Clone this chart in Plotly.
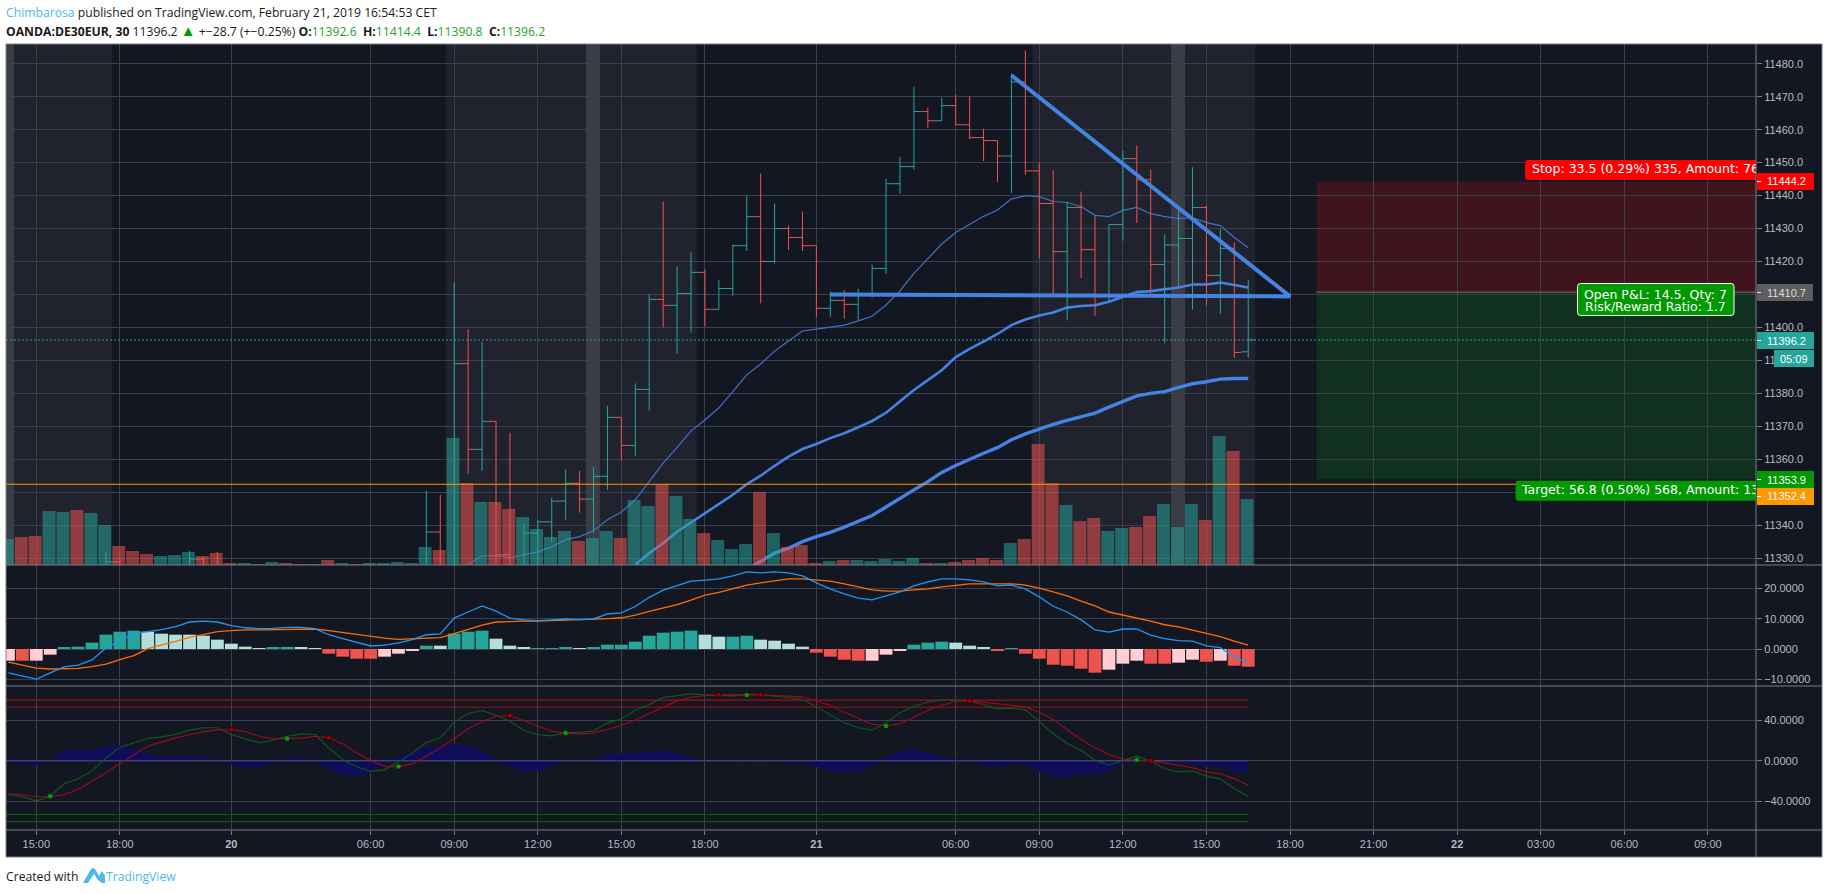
import plotly.graph_objects as go

W, H = 1828, 894
X_LEFT, X_RIGHT = -2.175, 123.45

# ---------- price bars (bar number, 0 = 15:00 on the 19th) ----------
bar_no = [5, 6, 11, 12, 13, 28, 29, 30, 31, 32, 33, 34, 35, 36, 37, 38, 39, 40, 41, 42, 43, 44, 45, 46, 47, 48, 49, 50,
          51, 52, 53, 54, 55, 56, 57, 58, 59, 60, 61, 62, 63, 64, 65, 66, 67, 68, 69, 70, 71, 72, 73, 74, 75, 76, 77,
          78, 79, 80, 81, 82, 83, 84, 85, 86, 87]
opens = [11325, 11328.8, 11325, 11329.7, 11326, 11325, 11337.9, 11325, 11389, 11363, 11371.5, 11331, 11326, 11337.6,
         11341, 11347.3, 11352.7, 11347.9, 11354.8, 11372.7, 11364.2, 11381.2, 11408.5, 11406.7, 11410.3, 11416.7,
         11405.5, 11411.8, 11424.8, 11433.6, 11420, 11430, 11427.3, 11424.8, 11405.8, 11408.2, 11407, 11410, 11417.9,
         11443.6, 11448.8, 11465.5, 11462.7, 11467.3, 11461.5, 11457.6, 11456.7, 11452, 11474.5, 11447.5, 11437.6,
         11423, 11436.4, 11423.6, 11409.4, 11431.2, 11451.2, 11444.8, 11419.1, 11425, 11427, 11436.4, 11415.8, 11424,
         11392.6]
highs = [11331.9, 11330.3, 11332.2, 11330.3, 11331.9, 11350.4, 11349.2, 11413.7, 11399.5, 11395.5, 11371.5, 11368,
         11340.4, 11341.6, 11348.3, 11356.8, 11356.5, 11357.6, 11376.2, 11372.7, 11383, 11410, 11438.2, 11418.5,
         11422.8, 11417.6, 11414.3, 11425.2, 11440, 11446.7, 11437.6, 11430.9, 11435.2, 11424.8, 11410.9, 11411.3,
         11411.8, 11419, 11445.2, 11451.8, 11473, 11466.7, 11469.7, 11470.6, 11470, 11460.3, 11456.7, 11477, 11484,
         11450, 11447.6, 11438.2, 11441.2, 11434, 11431.2, 11453.6, 11455.2, 11447.9, 11428.2, 11435.6, 11448.6,
         11437, 11430, 11425.8, 11414.4]
lows = [11325, 11325, 11325, 11325, 11325, 11325, 11325, 11325, 11355.5, 11356.5, 11325, 11325, 11325, 11325, 11334.8,
        11341.6, 11343.8, 11337.6, 11350.7, 11359.6, 11361, 11374.7, 11400, 11392, 11398.4, 11400.3, 11405.5, 11409.6,
        11423.2, 11407.3, 11419.4, 11423.5, 11423.2, 11403.2, 11403.2, 11402.6, 11402.2, 11409, 11416.3, 11440.5,
        11447.9, 11460.5, 11462.7, 11461.5, 11457.2, 11450.5, 11444.1, 11440.8, 11446.3, 11421, 11410, 11402.2, 11415,
        11403.5, 11408, 11426.3, 11431.7, 11410.3, 11395.2, 11412.3, 11405.4, 11406.6, 11404.1, 11390.8, 11390.8]
closes = [11328.8, 11325, 11329.7, 11326, 11325, 11337.9, 11325, 11389, 11363, 11371.5, 11331, 11326, 11337.6, 11341,
          11347.3, 11352.7, 11347.9, 11354.8, 11372.7, 11364.2, 11381.2, 11408.5, 11406.7, 11410.3, 11416.7, 11405.5,
          11411.8, 11424.8, 11433.6, 11420, 11430, 11427.3, 11424.8, 11405.8, 11408.2, 11407, 11410, 11417.9, 11443.6,
          11448.8, 11465.5, 11462.7, 11467.3, 11461.5, 11457.6, 11456.7, 11452, 11474.5, 11447.5, 11437.6, 11423,
          11436.4, 11423.6, 11409.4, 11431.2, 11451.2, 11444.8, 11419.1, 11425, 11427, 11436.4, 11415.8, 11424, 11392.4,
          11396.2]

# ---------- moving averages ----------
ma1_x = list(range(31, 88))
ma1 = [11328, 11330.7, 11330.7, 11330.1, 11331, 11331.9, 11333.4, 11335.6, 11336.5, 11338.3, 11341.6, 11344, 11347.7,
       11353.4, 11358.8, 11363.6, 11368.6, 11371.9, 11375.6, 11380.5, 11385.6, 11388.9, 11392.8, 11395.9, 11398.9,
       11399.5, 11400.1, 11400.7, 11402, 11403.4, 11406.8, 11411.1, 11416.4, 11420.9, 11425.3, 11428.8, 11431.3,
       11433.7, 11435.6, 11439, 11440, 11439.7, 11438.2, 11437.9, 11436.7, 11434, 11433.6, 11435.5, 11436.4, 11434.5,
       11433.6, 11433, 11433.3, 11431.8, 11430.9, 11427.3, 11424.2]
ma2_x = list(range(43, 88))
ma2 = [11328, 11331.5, 11334.5, 11338, 11340.8, 11343.6, 11346.2, 11349.2, 11352.4, 11355, 11358, 11360.8, 11363.1,
       11364.6, 11366.4, 11367.9, 11369.7, 11371.6, 11374.1, 11377.5, 11381, 11384, 11387, 11391, 11393.5, 11395.7,
       11398, 11400.7, 11402.4, 11403.6, 11404.5, 11406, 11406.5, 11406.7, 11407.8, 11409.3, 11410.7, 11411, 11411.5,
       11412.1, 11413, 11413, 11413.6, 11412.8, 11412.1]
ma3_x = list(range(51, 88))
ma3 = [11326.5, 11329, 11331.5, 11333, 11335, 11336.5, 11337.8, 11339.4, 11341.1, 11342.9, 11345.5, 11348.2, 11350.7,
       11353.2, 11356, 11358.1, 11360, 11361.8, 11363.5, 11365.9, 11367.7, 11369.2, 11370.6, 11371.8, 11372.8, 11374,
       11375.8, 11377.5, 11379.2, 11380, 11380.5, 11381.8, 11382.9, 11383.5, 11384.3, 11384.5, 11384.5]

# ---------- volume (bars -2 .. 87) ----------
vol_x = list(range(-2, 88))
volumes = [78, 84, 87, 162, 159, 165, 156, 120, 57, 42, 33, 27, 30, 39, 27, 36, 6, 6, 3, 9, 6, 3, 3, 15, 6, 3, 6, 6, 9,
           6, 54, 45, 381, 246, 189, 189, 168, 144, 108, 84, 102, 72, 81, 102, 81, 195, 177, 242, 207, 138, 96, 75, 48,
           63, 219, 96, 54, 60, 6, 12, 15, 15, 12, 18, 12, 21, 6, 6, 9, 15, 21, 15, 66, 78, 363, 245, 180, 132, 141, 102,
           111, 114, 147, 183, 114, 183, 135, 387, 342, 198]
vol_dir = list("T" "RR" "TT" "R" "TT" "RRR" "TTT" "RRR" "TTT" "RRRR" "T" "R" "TTTTT" "R"
               "T" "R" "T" "RR" "TTTT" "R" "TT" "R" "TT" "R" "TT" "R" "TTT" "R" "T" "RRR" "T" "R" "TTTTT" "R" "T"
               "RRRR" "T" "RRR" "T" "RR" "TT" "RR" "TTT" "R" "T" "R" "T")

# ---------- MACD ----------
macd_x = list(range(-2, 88))
hist = [-3.85, -3.85, -3.85, -1.87, 0.44, 0.77, 2.1, 4.73, 5.7, 6.05, 5.7, 5.06, 4.73, 4.73, 4.4, 3.08, 1.76, 0.77,
        0.15, 0.44, 0.44, 0.44, 0.03, -1.54, -2.53, -3.2, -3.2, -2.53, -1.54, -0.55, 1.1, 1.1, 5.06, 5.7, 6.05, 3.4,
        1.1, 0.44, 0.05, 0.11, 0.44, 0.11, 0.44, 1.43, 1.43, 2.42, 4.4, 5.39, 5.72, 6.05, 4.73, 4.07, 4.07, 4.4, 3.08,
        2.75, 1.76, 0.77, -1.2, -2.53, -3.52, -3.85, -3.85, -1.87, -0.55, 1.43, 2.09, 2.42, 2.09, 1.1, 0.44, -0.55,
        0.11, -1.54, -3.2, -5.17, -5.5, -6.5, -7.8, -6.82, -4.84, -3.85, -4.84, -4.84, -4.5, -3.52, -4.18, -3.85,
        -5.5, -5.83]
hist_tone = list("PRPP" "TTTTTT" "LLLLLLLLL" "TT" "L" "L" "RRRR" "PPP" "T" "L" "TTT" "LLL" "T" "T" "T" "L" "T"
                 "TTTTTTT" "LL" "TT" "LLLL" "RRRR" "PPP" "TTT" "LLL" "R" "T" "RRRRRR" "PPP" "RR" "PP" "R" "P" "RR")
macd_line = [-7.9, -8.9, -9.9, -7.9, -5.9, -5.3, -3.6, 0.3, 2.75, 5.06, 5.7, 6.4, 7.4, 8.9, 9.2, 8.9, 7.7, 7, 6.7, 6.8,
             7.15, 7.15, 6.7, 4.7, 3.4, 2.1, 1, 1.3, 2, 3.1, 4.7, 5, 10.2, 12.2, 14.2, 12.5, 10.2, 9.6, 9.35, 9.6, 9.9,
             9.7, 9.9, 11.55, 11.9, 14, 17.05, 19.4, 20.8, 22.4, 22.7, 23.1, 24.1, 25.4, 25.1, 25.4, 25.1, 24.1, 21.8,
             19.8, 18.2, 16.8, 16.2, 17.5, 18.8, 20.8, 22.1, 23.1, 23.1, 22.8, 22.1, 20.8, 21.1, 19.8, 17.2, 14.1, 12.2,
             9.6, 6.3, 5.6, 6.6, 6.6, 4.6, 3.4, 2.75, 2.6, 1, 0.44, -2.6, -4.6]
signal_line = [-4.3, -5.3, -6.3, -6.6, -6.6, -6.4, -5.8, -5, -3.5, -2.2, 0.1, 1.2, 2.5, 3.85, 4.7, 5.7, 6.05, 6.3, 6.3,
               6.4, 6.6, 6.7, 6.6, 6.05, 5.4, 4.7, 4.07, 3.6, 3.2, 3.3, 3.6, 3.74, 5.06, 6.6, 7.9, 8.9, 9.1, 9.2, 9.2,
               9.35, 9.6, 9.7, 9.7, 10, 10.3, 11.2, 12.4, 13.5, 14.6, 16.1, 17.8, 18.7, 19.8, 21.1, 21.8, 22.4, 23.1,
               23.1, 22.8, 22.4, 21.5, 20.5, 19.5, 19.1, 19.1, 19.5, 19.8, 20.5, 21.1, 21.5, 21.5, 21.5, 21.5, 21.1,
               20.1, 18.8, 17.5, 15.8, 14.2, 12.2, 11.2, 10.3, 9.2, 8, 7.3, 6.2, 5.2, 4.1, 2.6, 1.3]

# ---------- wave trend oscillator ----------
wt_x = list(range(-2, 88))
wt_fast = [-33.5, -35.5, -39.5, -34.9, -22.4, -18, -9.9, 3, 13.5, 18, 22, 23.7, 26, 30.3, 32.6, 32.6, 26, 21.7, 17.8,
           20.4, 24.3, 26.6, 26, 12.8, 1.3, -5.9, -10.2, -8.9, -1, 7.9, 17.8, 22.7, 38.2, 46.7, 49.7, 45, 39, 29.9, 26,
           24.7, 27.6, 28.3, 29.6, 37.5, 41.4, 50, 55.6, 62.5, 64.5, 66.1, 65.1, 64.5, 64.1, 65.5, 65.8, 63.8, 61.8,
           60.5, 53.3, 45.7, 37.5, 32.6, 30.3, 37.5, 47.4, 53.9, 57.9, 60.2, 60.2, 58.9, 55.6, 51.3, 52, 50.3, 38.5, 27,
           17.1, 10.5, 0.66, -4.3, 0.3, 4.9, -0.3, -7.9, -10.9, -9.9, -15.1, -17.8, -27.6, -34.9]
wt_slow = [-32, -33.5, -35.5, -35.2, -33.5, -28.3, -20, -11.8, -2.6, 6.25, 14.5, 18.75, 22.7, 25.7, 28.6, 30.6, 30.6,
           28.9, 24.3, 21.7, 21.7, 22.4, 24.3, 22.7, 16.8, 7.9, 0.3, -5.3, -5.9, -3, 4.6, 12.8, 22, 31.6, 38.5, 44,
           44.7, 39.8, 34.2, 29.3, 27.3, 26.6, 27.6, 30.9, 35.2, 40.1, 46.7, 53, 59.2, 62.8, 64.5, 65.1, 65.1, 65.5,
           65.1, 64.5, 63.8, 63.2, 58.9, 54.9, 48, 41.8, 36.2, 34.9, 36.5, 43.1, 50, 54.9, 58.9, 59.2, 57.9, 56.6, 54.9,
           53, 48, 40.8, 30.9, 21, 12.8, 6.25, 1.6, 1, 0, -2, -4.3, -6.9, -10.9, -12.8, -17.8, -24]
wt_area = [-2, -2.6, -4.3, -0.3, 10.5, 10.5, 11.2, 14.5, 15.5, 11.2, 6.9, 4.6, 4.6, 4.6, 3.9, 1.3, -3.6, -6.6, -6.9,
           -1.3, 3, 3.9, -0.3, -8.6, -14.5, -15.1, -10.5, -2, 4.6, 9.5, 14.5, 12.8, 16.4, 15.1, 10.5, 1.3, -5.9, -10.9,
           -10.2, -5.3, 0.3, 1.3, 1.3, 6.25, 7.6, 7.9, 9.5, 10.5, 6.9, 3.3, 0.3, -2, -1, 0.66, 0, -1, -1.6, -2, -5.9,
           -10.2, -11.8, -10.9, -5.9, 3.6, 9.5, 11.5, 7.9, 4.6, 1.3, -1.3, -4.3, -6.3, -3.3, -3, -10.2, -15.8, -16.4,
           -13.5, -13.5, -10.2, -1.3, -0.3, 0, -1.3, -2, -3.6, -5.3, -5.9, -10.9, -11.8]
cross_up_x = [1, 18, 26, 38, 51, 61, 79]
cross_up_y = [-35, 21.7, -5.6, 27.6, 65.1, 34.5, 1]
cross_dn_x = [14, 21, 34, 49, 52, 67, 80]
cross_dn_y = [30.6, 22.7, 44.7, 65.1, 65.1, 59.2, 0]
wt_levels_red = [60, 53]
wt_levels_green = [-53, -60]

# ---------- axis labels ----------
x_tick_pos = [0, 6, 14, 24, 30, 36, 42, 48, 56, 66, 72, 78, 84, 90, 96, 102, 108, 114, 120]
x_tick_txt = ["15:00", "18:00", "<b>20</b>", "06:00", "09:00", "12:00", "15:00", "18:00", "<b>21</b>", "06:00", "09:00",
              "12:00", "15:00", "18:00", "21:00", "<b>22</b>", "03:00", "06:00", "09:00"]
price_ticks = [11330, 11340, 11350, 11360, 11370, 11380, 11390, 11400, 11410, 11420, 11430, 11440, 11450, 11460, 11470,
               11480]
macd_ticks = [-10, 0, 10, 20]
wt_ticks = [-40, 0, 40]

# ---------- drawings ----------
sessions = [(-2.175, 5.42), (29.4, 47.4), (71.5, 87.5)]
session_marks = [(-2.175, -1.6), (39.46, 40.46), (81.46, 82.46)]
triangle_x = [57, 90, 70]
triangle_y = [11410, 11409.4, 11476.5]
last_price, entry_price, stop_price, target_price, alert_price = 11396.2, 11410.7, 11444.2, 11353.9, 11352.4
position_left = 91.9
stop_label_text = "Stop: 33.5 (0.29%) 335, Amount: 76"
target_label_text = "Target: 56.8 (0.50%) 568, Amount: 13"

BG = "#131722"
GRID = "#3b3e4b"
EDGE = "#7c7e87"
TXT = "#b8bac2"
UP, DOWN = "#26a69a", "#ef5350"
LINE_BLUE = "#4583e2"
FONT = "Liberation Sans"
UI_FONT = "DejaVu Sans"


def py(p):
    return 1 - p / H


def px(p):
    return p / W


def bar_at(p):
    return (p - 36.3) / 13.93


def price_at(p):
    return 11450 - (p - 162.7) / 3.296


fig = go.Figure()

# lines under the volume
for xs, ys, w, col in [(ma1_x, ma1, 1.2, "#3f74c2"), (ma2_x, ma2, 2.6, LINE_BLUE), (ma3_x, ma3, 3.4, LINE_BLUE)]:
    fig.add_trace(go.Scatter(x=xs, y=ys, mode="lines", line=dict(color=col, width=w), xaxis="x", yaxis="y",
                             hoverinfo="skip"))

# volume
vol_colors = ["rgba(38,166,154,0.52)" if d == "T" else "rgba(239,83,80,0.55)" for d in vol_dir]
fig.add_trace(go.Bar(x=vol_x, y=volumes, width=0.93, offset=-0.55, marker=dict(color=vol_colors, line_width=0),
                     xaxis="x", yaxis="y4", hoverinfo="skip"))

# OHLC
fig.add_trace(go.Ohlc(x=bar_no, open=opens, high=highs, low=lows, close=closes, tickwidth=0.5,
                      increasing=dict(line=dict(color=UP, width=1)), decreasing=dict(line=dict(color=DOWN, width=1)),
                      xaxis="x", yaxis="y5", hoverinfo="skip"))

# price lines and drawings over the bars
fig.add_trace(go.Scatter(x=[X_LEFT, X_RIGHT], y=[last_price, last_price], mode="lines",
                         line=dict(color=UP, width=1, dash="2px,2px"), xaxis="x", yaxis="y5", hoverinfo="skip"))
fig.add_trace(go.Scatter(x=[X_LEFT, 106.2], y=[alert_price, alert_price], mode="lines",
                         line=dict(color="#ff9800", width=1.2), xaxis="x", yaxis="y5", hoverinfo="skip"))
fig.add_trace(go.Scatter(x=[position_left, X_RIGHT], y=[entry_price, entry_price], mode="lines",
                         line=dict(color="#7a7a7a", width=1), xaxis="x", yaxis="y5", hoverinfo="skip"))
fig.add_trace(go.Scatter(x=triangle_x, y=triangle_y, mode="lines", line=dict(color=LINE_BLUE, width=4),
                         xaxis="x", yaxis="y5", hoverinfo="skip"))

# MACD
tone_map = {"T": "#26a69a", "L": "#b2dfdb", "R": "#ef5350", "P": "#ffcdd2"}
fig.add_trace(go.Bar(x=macd_x, y=hist, width=0.92, marker=dict(color=[tone_map[t] for t in hist_tone], line_width=0),
                     xaxis="x", yaxis="y2", hoverinfo="skip"))
fig.add_trace(go.Scatter(x=macd_x, y=signal_line, mode="lines", line=dict(color="#ff6d00", width=1.3), xaxis="x",
                         yaxis="y2", hoverinfo="skip"))
fig.add_trace(go.Scatter(x=macd_x, y=macd_line, mode="lines", line=dict(color="#2196f3", width=1.3), xaxis="x",
                         yaxis="y2", hoverinfo="skip"))

# oscillator
fig.add_trace(go.Scatter(x=wt_x, y=wt_area, mode="lines", fill="tozeroy", fillcolor="#0e0e58", line=dict(width=0),
                         xaxis="x", yaxis="y3", hoverinfo="skip"))
fig.add_trace(go.Scatter(x=[X_LEFT, 87], y=[0, 0], mode="lines", line=dict(color="#50508c", width=1), xaxis="x",
                         yaxis="y3", hoverinfo="skip"))
for lv, wd in zip(wt_levels_red, [1.2, 1]):
    fig.add_trace(go.Scatter(x=[X_LEFT, 87], y=[lv, lv], mode="lines", line=dict(color="#a80f12", width=wd), xaxis="x",
                             yaxis="y3", hoverinfo="skip"))
for lv, wd in zip(wt_levels_green, [1, 1.2]):
    fig.add_trace(go.Scatter(x=[X_LEFT, 87], y=[lv, lv], mode="lines", line=dict(color="#0d5a10", width=wd), xaxis="x",
                             yaxis="y3", hoverinfo="skip"))
fig.add_trace(go.Scatter(x=wt_x, y=wt_fast, mode="lines", line=dict(color="#105a1c", width=1.1), xaxis="x", yaxis="y3",
                         hoverinfo="skip"))
fig.add_trace(go.Scatter(x=wt_x, y=wt_slow, mode="lines", line=dict(color="#a00a1c", width=1.1), xaxis="x", yaxis="y3",
                         hoverinfo="skip"))
fig.add_trace(go.Scatter(x=cross_up_x, y=cross_up_y, mode="markers", marker=dict(color="#00a000", size=4.5), xaxis="x",
                         yaxis="y3", hoverinfo="skip"))
fig.add_trace(go.Scatter(x=cross_dn_x, y=cross_dn_y, mode="markers",
                         marker=dict(color="#a80000", size=5, line=dict(color="#300008", width=1)), xaxis="x",
                         yaxis="y3", hoverinfo="skip"))

# labels clipped by the price pane
fig.add_trace(go.Scatter(x=[bar_at(1532)], y=[price_at(170)], mode="text", text=[stop_label_text],
                         textposition="middle right", textfont=dict(color="white", size=12.5, family=UI_FONT),
                         xaxis="x", yaxis="y5", hoverinfo="skip"))
fig.add_trace(go.Scatter(x=[bar_at(1522)], y=[price_at(491)], mode="text", text=[target_label_text],
                         textposition="middle right", textfont=dict(color="white", size=12.5, family=UI_FONT),
                         xaxis="x", yaxis="y5", hoverinfo="skip"))

shapes = []


def rect_paper(x0, y0, x1, y1, color, layer="above", line=None):
    shapes.append(dict(type="rect", xref="paper", yref="paper", x0=px(x0), x1=px(x1), y0=py(y1), y1=py(y0),
                       fillcolor=color, line=dict(width=0) if line is None else line, layer=layer))


def line_paper(x0, y0, x1, y1, color=EDGE, width=1):
    shapes.append(dict(type="line", xref="paper", yref="paper", x0=px(x0), x1=px(x1), y0=py(y0), y1=py(y1),
                       line=dict(color=color, width=width), layer="above"))


def round_left_path(x0, y0, x1, y1, fx, fy, r=3, round_right=False):
    """Rectangle path with rounded corners, converted through fx / fy."""
    rr = r if round_right else 0
    return (f"M {fx(x0 + r)} {fy(y0)} L {fx(x1 - rr)} {fy(y0)} "
            f"Q {fx(x1)} {fy(y0)} {fx(x1)} {fy(y0 + rr)} L {fx(x1)} {fy(y1 - rr)} "
            f"Q {fx(x1)} {fy(y1)} {fx(x1 - rr)} {fy(y1)} L {fx(x0 + r)} {fy(y1)} "
            f"Q {fx(x0)} {fy(y1)} {fx(x0)} {fy(y1 - r)} L {fx(x0)} {fy(y0 + r)} "
            f"Q {fx(x0)} {fy(y0)} {fx(x0 + r)} {fy(y0)} Z")


rect_paper(6, 44, 1822, 857, BG, layer="below")
for a, b in sessions:
    shapes.append(dict(type="rect", xref="x", yref="y", x0=a, x1=b, y0=11327.9, y1=11486, fillcolor="#20232e",
                       line=dict(width=0), layer="below"))
for a, b in session_marks:
    shapes.append(dict(type="rect", xref="x", yref="y", x0=a, x1=b, y0=11327.9, y1=11486, fillcolor="#3a3d46",
                       line=dict(width=0), layer="below"))
shapes.append(dict(type="rect", xref="x", yref="y", x0=position_left, x1=X_RIGHT, y0=entry_price, y1=stop_price,
                   fillcolor="#40141c", line=dict(width=0), layer="below"))
shapes.append(dict(type="rect", xref="x", yref="y", x0=position_left, x1=X_RIGHT, y0=target_price, y1=entry_price,
                   fillcolor="#10311f", line=dict(width=0), layer="below"))

# pane frame
for yy in (44, 565, 686, 830, 857):
    line_paper(6, yy, 1822, yy)
for xx in (6, 1756, 1822):
    line_paper(xx, 44, xx, 857)

# label boxes: between the grid and the traces so the clipped texts stay on top
shapes.append(dict(type="path", xref="x", yref="y", path=round_left_path(1525, 160, 1756, 180, bar_at, price_at),
                   fillcolor="#ff0000", line=dict(width=0), layer="between"))
shapes.append(dict(type="path", xref="x", yref="y", path=round_left_path(1515.5, 481, 1756, 501, bar_at, price_at),
                   fillcolor="#009900", line=dict(width=0), layer="between"))
shapes.append(dict(type="path", xref="paper", yref="paper",
                   path=round_left_path(1577.5, 283.5, 1734, 315.5, px, py, round_right=True),
                   fillcolor="#009900", line=dict(color="white", width=1), layer="above"))

annotations = []


def note(x, y, text, color="white", size=11, family=FONT, anchor="left"):
    annotations.append(dict(xref="paper", yref="paper", x=px(x), y=py(y), text=text, showarrow=False, xanchor=anchor,
                            yanchor="middle", align=anchor, font=dict(color=color, size=size, family=family),
                            borderpad=0, borderwidth=0))


# price tags
tags = [(173, 190, "#ff0000", "11444.2", "white", 1814), (284, 301, "#5d5d5d", "11410.7", "#dddddd", 1813),
        (332, 349, "#26a69a", "11396.2", "white", 1814), (471, 488, "#009900", "11353.9", "white", 1814),
        (488, 505, "#ff9800", "11352.4", "white", 1814)]
for y0, y1, col, label, tcol, right in tags:
    rect_paper(1757, y0, right, y1, col)
    line_paper(1757, (y0 + y1) / 2, 1761, (y0 + y1) / 2, tcol)
    note(1766.5, (y0 + y1) / 2, label, tcol)
rect_paper(1774, 350, 1814, 367, "#26a69a")
note(1794, 358.5, "05:09", "white", anchor="center")
note(1655.5, 294, "Open P&amp;L: 14.5, Qty: 7", "white", 12.5, UI_FONT, "center")
note(1655.5, 306, "Risk/Reward Ratio: 1.7", "white", 12.5, UI_FONT, "center")

# header and footer
HEAD = "Open Sans"
note(6, 12.5, '<span style="color:#4fb8ea">Chimbarosa</span> published on TradingView.com, February 21, 2019 '
              '16:54:53 CET', "#1a1a1a", 12.2, HEAD)
G = "#1fa51f"
SP = "&nbsp;"
note(6, 29.5, f'<b>OANDA:DE30EUR, 30</b> 11396.2 <span style="color:#009900;font-size:15px">▲</span> +−28.7 (+−0.25%) '
              f'<b>O:</b><span style="color:{G}">11392.6</span> {SP}<b>H:</b><span style="color:{G}">11414.4</span> '
              f'{SP}<b>L:</b><span style="color:{G}">11390.8</span> {SP}<b>C:</b><span style="color:{G}">11396.2</span>',
     "#1a1a1a", 12.2, HEAD)
note(6, 876, "Created with", "#1a1a1a", 12.2, HEAD)
note(105.5, 876, "TradingView", "#4fb8ea", 12.2, HEAD)
logo_pts = [(83, 883), (91, 869), (93, 868), (95, 869), (99, 876), (102, 871), (105, 876), (105, 883), (102, 883),
            (98, 880), (94, 874), (90, 880), (88, 883)]
logo_path = "M " + " L ".join(f"{px(a):.5f} {py(b):.5f}" for a, b in logo_pts) + " Z"
shapes.append(dict(type="path", xref="paper", yref="paper", path=logo_path, fillcolor="#4fb8ea",
                   line=dict(width=0), layer="above"))

y_common = dict(side="right", anchor="x", showgrid=True, gridcolor=GRID, gridwidth=1, zeroline=False, showline=False,
                ticks="outside", ticklen=5, tickcolor=EDGE, tickfont=dict(color=TXT, size=11, family=FONT),
                tickmode="array", fixedrange=True)

fig.update_layout(
    width=W, height=H, autosize=False, margin=dict(l=0, r=0, t=0, b=0, pad=0), paper_bgcolor="white",
    plot_bgcolor="rgba(0,0,0,0)", showlegend=False, barmode="overlay", hovermode=False, shapes=shapes,
    annotations=annotations,
    xaxis=dict(domain=[px(6), px(1756)], range=[X_LEFT, X_RIGHT], anchor="y3", tickmode="array", tickvals=x_tick_pos,
               ticktext=x_tick_txt, showgrid=True, gridcolor=GRID, gridwidth=1, zeroline=False, showline=False,
               ticks="outside", ticklen=4, tickcolor=EDGE, tickfont=dict(color=TXT, size=11, family=FONT),
               rangeslider=dict(visible=False), fixedrange=True),
    yaxis=dict(domain=[py(565), py(44)], range=[11327.9, 11486], tickvals=price_ticks, tickformat=".1f", **y_common),
    yaxis2=dict(domain=[py(686), py(565)], range=[-12.2, 27.7], tickvals=macd_ticks, tickformat=".4f", **y_common),
    yaxis3=dict(domain=[py(830), py(686)], range=[-68.3, 73.9], tickvals=wt_ticks, tickformat=".4f", **y_common),
    yaxis4=dict(overlaying="y", range=[0, 1563], visible=False, fixedrange=True, anchor="x", side="right"),
    yaxis5=dict(overlaying="y", range=[11327.9, 11486], visible=False, fixedrange=True, anchor="x", side="right"),
)

fig.write_html("out.html", config=dict(displayModeBar=False),
               post_script="document.body.style.margin='0';document.body.style.background='white';")
